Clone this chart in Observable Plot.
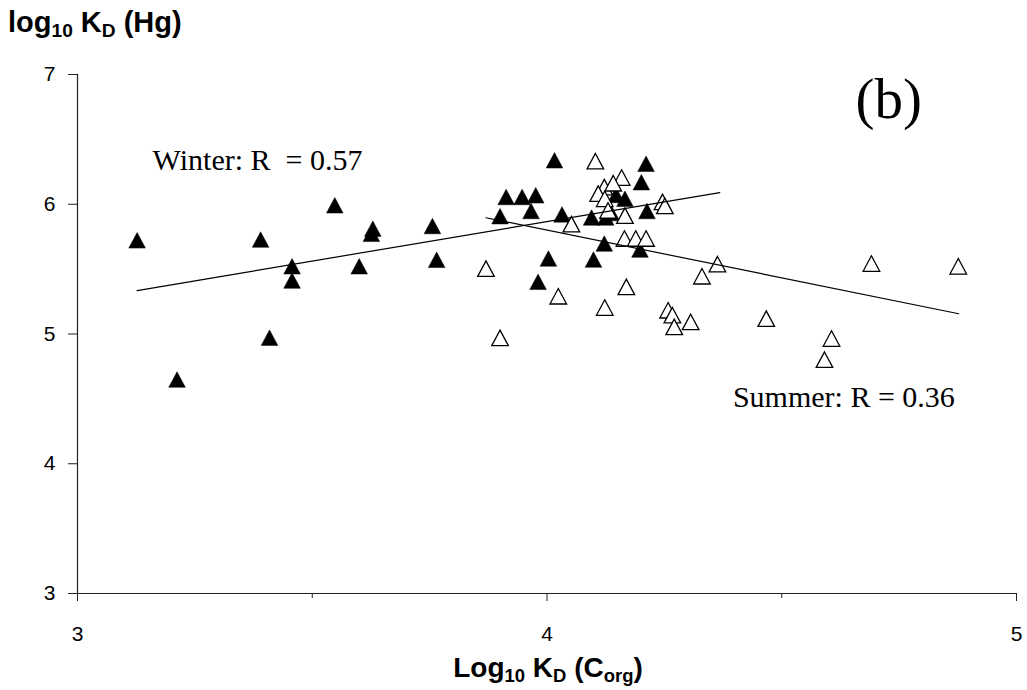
<!DOCTYPE html>
<html>
<head>
<meta charset="utf-8">
<script src="https://cdn.jsdelivr.net/npm/d3@7"></script>
<script src="https://cdn.jsdelivr.net/npm/@observablehq/plot@0.6"></script>
<style>
  body { margin: 0; background: #fff; }
  #wrap { position: relative; width: 1027px; height: 690px; font-family: Arial, "Liberation Sans", sans-serif; background: #fff; }
  #wrap svg { position: absolute; left: 0; top: 0; }
  .ttl { position: absolute; font-weight: bold; white-space: nowrap; line-height: 1; color: #000; }
  .ttl sub { font-size: 0.66em; vertical-align: baseline; position: relative; top: 0.28em; }
</style>
</head>
<body>
<div id="wrap"></div>
<script>
// Winter samples (filled triangles)
const winterX = [3.127, 3.212, 3.390, 3.409, 3.457, 3.457, 3.548, 3.600, 3.629, 3.626, 3.756, 3.765,
                 4.016, 4.211, 4.201, 3.913, 3.947, 3.976, 3.966, 3.900, 4.032, 4.095, 4.125, 4.147,
                 4.166, 4.213, 4.122, 4.198, 4.003, 4.099, 3.981, 4.137];
const winterY = [5.72, 4.647, 5.726, 4.97, 5.52, 5.41, 5.99, 5.52, 5.81, 5.77, 5.83, 5.57,
                 6.337, 6.31, 6.168, 6.054, 6.054, 6.067, 5.946, 5.906, 5.92, 5.896, 5.896, 6.07,
                 6.04, 5.946, 5.695, 5.649, 5.58, 5.572, 5.40, 5.93];
// Summer samples (open triangles)
const summerX = [4.103, 4.159, 4.122, 4.141, 4.109, 4.123, 4.246, 4.251, 4.130, 4.166, 4.052, 4.165,
                 4.189, 4.211, 3.870, 4.363, 4.330, 4.169, 4.024, 4.123, 4.258, 4.267, 4.271, 4.306,
                 3.900, 4.467, 4.691, 4.876, 4.606, 4.591];
const summerY = [6.33, 6.204, 6.13, 6.16, 6.08, 6.04, 6.016, 5.985, 5.95, 5.91, 5.845, 5.734,
                 5.734, 5.734, 5.502, 5.536, 5.443, 5.361, 5.289, 5.202, 5.181, 5.143, 5.053, 5.091,
                 4.968, 5.117, 5.541, 5.52, 4.963, 4.80];
// Trend lines (end points)
const winterLineX = [3.127, 4.368];
const winterLineY = [5.335, 6.09];
const summerLineX = [3.870, 4.877];
const summerLineY = [5.896, 5.156];
// Ticks
const xTicks = [3, 4, 5];
const xMinorTicks = [3.5, 4.5];
const yTicks = [3, 4, 5, 6, 7];
// Annotations
const noteText = ["Winter: R \u00a0= 0.57", "Summer: R = 0.36"];
const noteX = [3.160, 4.396];
const noteY = [6.264, 4.441];
const panelText = ["(b)"];
const panelX = [4.657];
const panelY = [6.665];

const winter = winterX.map((x, i) => ({x, y: winterY[i]}));
const summer = summerX.map((x, i) => ({x, y: summerY[i]}));
const winterLine = winterLineX.map((x, i) => ({x, y: winterLineY[i]}));
const summerLine = summerLineX.map((x, i) => ({x, y: summerLineY[i]}));
const notes = noteText.map((t, i) => ({t, x: noteX[i], y: noteY[i]}));
const panel = panelText.map((t, i) => ({t, x: panelX[i], y: panelY[i]}));

const tri = {
  draw(ctx) {
    ctx.moveTo(0, -8);
    ctx.lineTo(8.3, 7.5);
    ctx.lineTo(-8.3, 7.5);
    ctx.closePath();
  }
};

const sans = "Arial, 'Liberation Sans', sans-serif";
const serif = "'Liberation Serif', 'Times New Roman', serif";

const chart = Plot.plot({
  width: 1027,
  height: 690,
  marginLeft: 77,
  marginRight: 11,
  marginTop: 74,
  marginBottom: 97,
  x: {domain: [3, 5]},
  y: {domain: [3, 7]},
  style: {fontFamily: sans, color: "#000", background: "#fff", overflow: "visible"},
  marks: [
    Plot.axisY({ticks: yTicks, tickSize: 9, label: null, stroke: "#222", tickFormat: () => ""}),
    Plot.axisX({ticks: xTicks, tickSize: 8, label: null, stroke: "#222", tickFormat: () => ""}),
    Plot.axisX({ticks: xMinorTicks, tickSize: 5, label: null, stroke: "#222", tickFormat: () => ""}),
    Plot.text(yTicks, {y: d => d, text: d => String(d), frameAnchor: "left", dx: -22, textAnchor: "end", fontFamily: sans, fontSize: 21, fill: "#000"}),
    Plot.text(xTicks, {x: d => d, text: d => String(d), frameAnchor: "bottom", dy: 33, lineAnchor: "top", fontFamily: sans, fontSize: 21, fill: "#000"}),
    Plot.ruleX([3], {stroke: "#222", strokeWidth: 1.2}),
    Plot.ruleY([3], {stroke: "#222", strokeWidth: 1.2}),
    Plot.dot(winter, {x: "x", y: "y", symbol: tri, fill: "#000", stroke: "#000", strokeWidth: 0.5, r: 6}),
    Plot.dot(summer, {x: "x", y: "y", symbol: tri, fill: "#fff", stroke: "#000", strokeWidth: 1.3, r: 6}),
    Plot.line(winterLine, {x: "x", y: "y", stroke: "#000", strokeWidth: 1.2}),
    Plot.line(summerLine, {x: "x", y: "y", stroke: "#000", strokeWidth: 1.2}),
    Plot.text(notes, {x: "x", y: "y", text: "t", textAnchor: "start", lineAnchor: "bottom", fontFamily: serif, fontSize: 30, fill: "#000"}),
    Plot.text(panel, {x: "x", y: "y", text: "t", textAnchor: "start", lineAnchor: "bottom", fontFamily: serif, fontSize: 57, fill: "#000"})
  ]
});

const wrap = document.getElementById("wrap");
wrap.appendChild(chart);

const yTitle = document.createElement("div");
yTitle.className = "ttl";
yTitle.style.fontSize = "29px";
yTitle.style.left = "8px";
yTitle.style.top = "8px";
yTitle.innerHTML = "log<sub>10</sub> K<sub>D</sub> (Hg)";
wrap.appendChild(yTitle);

const xTitle = document.createElement("div");
xTitle.className = "ttl";
xTitle.style.fontSize = "28px";
xTitle.style.left = "548px";
xTitle.style.top = "654px";
xTitle.style.transform = "translateX(-50%)";
xTitle.innerHTML = "Log<sub>10</sub> K<sub>D</sub> (C<sub>org</sub>)";
wrap.appendChild(xTitle);
</script>
</body>
</html>
